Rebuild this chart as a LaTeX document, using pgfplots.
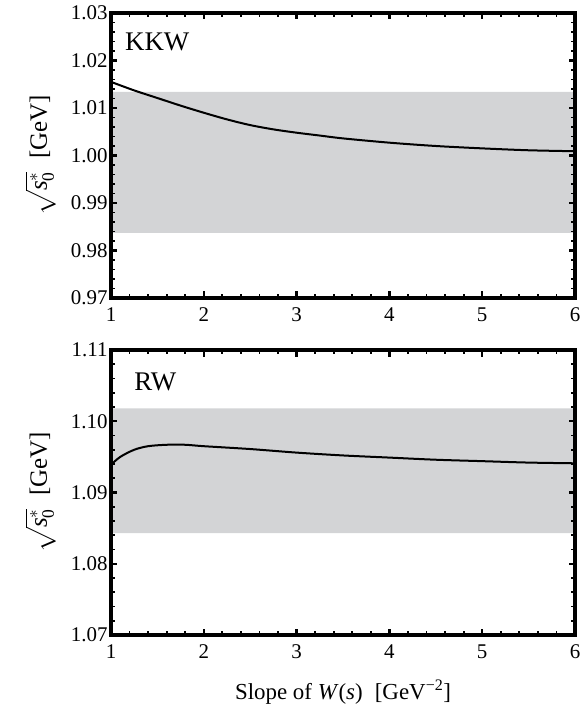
\documentclass[border=0pt]{standalone}
\usepackage{amsmath}
\usepackage{fontspec}
\setmainfont{Liberation Serif}
\usepackage{pgfplots}
\pgfplotsset{compat=1.18}
\definecolor{bandgray}{RGB}{211,212,214}
\begin{document}
\begin{tikzpicture}
\pgfplotsset{
  panel/.style={
    scale only axis, width=464bp, height=285bp,
    xmin=1, xmax=6,
    xtick={1,2,3,4,5,6},
    minor x tick num=4, minor y tick num=4,
    tick align=inside,
    major tick length=6.5bp, minor tick length=4.2bp,
    major tick style={black, line width=2.2bp},
    minor tick style={black, line width=1.8bp},
    axis line style={line width=4bp},
    tick label style={font=\fontsize{21}{24}\selectfont},
    /pgf/number format/assume math mode=true,
    yticklabel style={/pgf/number format/.cd, fixed, fixed zerofill, precision=2},
    xticklabel style={yshift=-6bp, /pgf/number format/.cd, fixed, precision=0},
    ylabel style={at={(axis description cs:-0.152,0.5)}, anchor=center},
    ylabel={\fontsize{25}{28}\selectfont $\sqrt{\textit{s}_{\text{0}}^{*}}$\; [GeV]},
    clip=true,
    axis on top,
    after end axis/.code={\draw[line width=4bp, line join=miter] (rel axis cs:0,0) rectangle (rel axis cs:1,1);},
  }
}
\begin{axis}[panel, name=top, ymin=0.97, ymax=1.03, ytick={0.97,0.98,0.99,1.00,1.01,1.02,1.03}]
\addplot[fill=bandgray, draw=none] coordinates {(1,0.9837) (6,0.9837) (6,1.0134) (1,1.0134)} \closedcycle;
\addplot[black, line width=2bp, smooth] coordinates {
(1,1.0155) (1.25,1.0137) (1.5,1.0121) (1.75,1.0105) (2,1.0090) (2.25,1.0076) (2.5,1.0064) (2.75,1.0055) (3,1.0048) (3.25,1.0042) (3.5,1.0036) (4,1.0027) (4.5,1.0020) (5,1.0015) (5.5,1.0011) (6,1.0009)};
\node[anchor=north west, font=\fontsize{27}{30}\selectfont, inner sep=0pt] at (rel axis cs:0.03,0.93) {KKW};
\end{axis}
\begin{axis}[panel, name=bot, at={(top.south west)}, anchor=south west, yshift=-337bp,
  ymin=1.07, ymax=1.11, ytick={1.07,1.08,1.09,1.10,1.11},
  xlabel={\fontsize{23}{27}\selectfont Slope of \textit{W}(\textit{s})\; [GeV\textsuperscript{−2}]},
  xlabel style={at={(axis description cs:0.5,0)}, anchor=center, yshift=-57bp}]
\addplot[fill=bandgray, draw=none] coordinates {(1,1.0843) (6,1.0843) (6,1.1018) (1,1.1018)} \closedcycle;
\addplot[black, line width=2bp, smooth] coordinates {
(1,1.0939) (1.1,1.0950) (1.25,1.0960) (1.4,1.0965) (1.6,1.0967) (1.8,1.0967) (2,1.0965) (2.5,1.0961) (3,1.0956) (3.5,1.0952) (4,1.0949) (4.5,1.0946) (5,1.0944) (5.5,1.0942) (6,1.0941)};
\node[anchor=north west, font=\fontsize{27}{30}\selectfont, inner sep=0pt] at (rel axis cs:0.05,0.92) {RW};
\end{axis}
\path (top.north west) ++(-111bp,13bp) coordinate (tl);
\path (bot.south east) ++(5bp,-80bp) coordinate (br);
\useasboundingbox (tl) rectangle (br);
\end{tikzpicture}
\end{document}
